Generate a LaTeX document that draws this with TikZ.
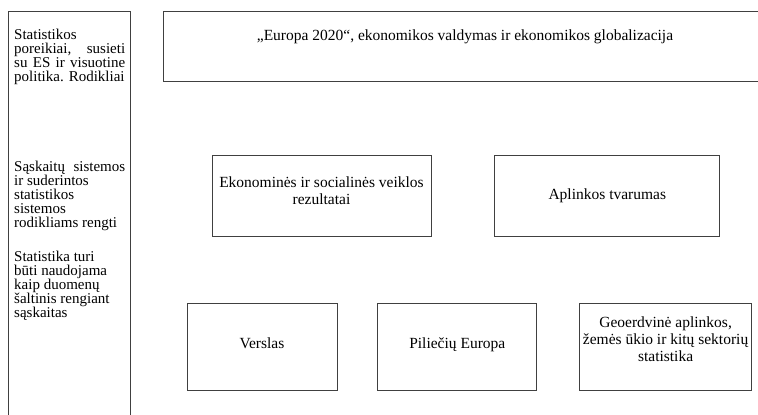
\documentclass[tikz,border=0pt]{standalone}
\usepackage{fontspec}
\setmainfont{Liberation Serif}
\usetikzlibrary{positioning}

\begin{document}
\begin{tikzpicture}[x=1pt,y=-1pt,
		box/.style={draw=black!75, line width=0.8pt, align=center, inner sep=2pt,
				font=\fontsize{15.5}{17}\selectfont},
		side/.style={anchor=north west, inner sep=0pt, text width=111pt, align=justify,
				font=\fontsize{15}{14}\selectfont},
		node distance=40pt]
	\useasboundingbox (0,0) rectangle (758,415);
	% left column
	\node[draw=black!75, line width=0.8pt, anchor=north west, inner sep=0pt,
		minimum width=122pt, minimum height=430pt] (col) at (8,10.7) {};
	\node[side] (needs) at (14,29) {Statistikos\newline poreikiai, susieti\linebreak su ES ir visuotine\linebreak politika. Rodikliai};
	\node[side] (accounts) at (14,161) {Sąskaitų sistemos\linebreak ir suderintos\newline statistikos\newline sistemos\newline rodikliams rengti};
	\node[side] (sources) at (14,250.5) {Statistika turi\newline būti naudojama\newline kaip duomenų\newline šaltinis rengiant\newline sąskaitas};
	%
	\node[box, anchor=north, minimum width=604pt, minimum height=70.3pt, text depth=22pt] (eu) at (465,10.7)
		{„Europa 2020“, ekonomikos valdymas ir ekonomikos globalizacija};
	%
	\node[box, minimum width=219pt, minimum height=81pt, text depth=10pt] (econ) at (321.5,195.5)
		{Ekonominės ir socialinės veiklos\\rezultatai};
	\node[box, minimum width=225pt, minimum height=81pt, right=63pt of econ] (env) {Aplinkos tvarumas};
	%
	\node[box, minimum width=150pt, minimum height=87pt, text depth=7pt] (biz) at (262,346.5) {Verslas};
	\node[box, minimum width=159pt, minimum height=87pt, text depth=7pt, right=40pt of biz] (cit) {Piliečių Europa};
	\node[box, minimum width=172pt, minimum height=87pt, text depth=15pt, right=42pt of cit] (geo)
		{Geoerdvinė aplinkos,\\žemės ūkio ir kitų sektorių\\statistika};
\end{tikzpicture}
\end{document}
